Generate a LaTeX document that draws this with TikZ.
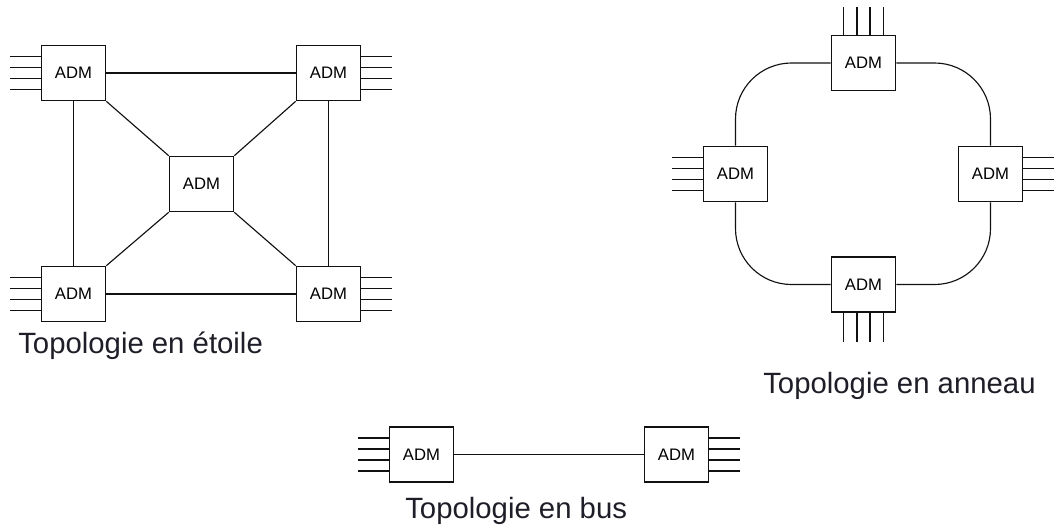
\documentclass[tikz,border=0pt]{standalone}
\usepackage{fontspec}
\setmainfont{Liberation Sans}
\usetikzlibrary{positioning,calc}
\definecolor{ink}{HTML}{111111}
\definecolor{textink}{HTML}{1E1E28}
\tikzset{
  adm/.style={draw=ink,fill=white,line width=1.15pt,minimum width=48pt,
              minimum height=41.25pt,inner sep=0pt,font=\fontsize{12.5}{14}\selectfont},
  link/.style={draw=ink,line width=0.85pt},
  port/.style={draw=ink,line width=1.15pt},
  toplabel/.style={anchor=base west,inner sep=0pt,text=textink,
                   font=\fontsize{22}{26}\selectfont}
}
% four tributary ports on one side of an ADM
\newcommand{\portsW}[1]{\foreach \d in {-16.5,-5.5,5.5,16.5}
  \draw[port] ($(#1.west)+(0,\d)$) -- ++(-31,0);}
\newcommand{\portsE}[1]{\foreach \d in {-16.5,-5.5,5.5,16.5}
  \draw[port] ($(#1.east)+(0,\d)$) -- ++(31,0);}
\newcommand{\portsN}[1]{\foreach \d in {-20,-6.5,6.5,20}
  \draw[port] ($(#1.north)+(\d,0)$) -- ++(0,-28);}
\newcommand{\portsS}[1]{\foreach \d in {-20,-6.5,6.5,20}
  \draw[port] ($(#1.south)+(\d,0)$) -- ++(0,29);}

\begin{document}
\begin{tikzpicture}[x=0.75pt,y=-0.75pt]
    \path[use as bounding box] (0,0) rectangle (1057,528);

    % star
    \node[adm] (startl) at (73.5,73)   {ADM};
    \node[adm] (startr) at (328.5,73)  {ADM};
    \node[adm] (starc)  at (201.5,184) {ADM};
    \node[adm] (starbl) at (73.5,294)  {ADM};
    \node[adm] (starbr) at (328.5,294) {ADM};
    \draw[link] (startl) -- (startr);
    \draw[link] (starbl) -- (starbr);
    \draw[link] (startl) -- (starbl);
    \draw[link] (startr) -- (starbr);
    \draw[link] (startl.south east) -- (starc.north west);
    \draw[link] (startr.south west) -- (starc.north east);
    \draw[link] (starbl.north east) -- (starc.south west);
    \draw[link] (starbr.north west) -- (starc.south east);
    \portsW{startl} \portsE{startr} \portsW{starbl} \portsE{starbr}
    \node[toplabel] (starlbl) at (18,353) {Topologie en étoile};

    % ring
    \node[adm] (ringn) at (863.5,63)   {ADM};
    \node[adm] (ringw) at (735.5,174)  {ADM};
    \node[adm] (ringe) at (990.5,174)  {ADM};
    \node[adm] (rings) at (863.5,284.5) {ADM};
    \draw[link,rounded corners=42pt] (ringn.west) -| (ringw.north);
    \draw[link,rounded corners=42pt] (ringn.east) -| (ringe.north);
    \draw[link,rounded corners=42pt] (rings.west) -| (ringw.south);
    \draw[link,rounded corners=42pt] (rings.east) -| (ringe.south);
    \portsN{ringn} \portsW{ringw} \portsE{ringe} \portsS{rings}
    \node[toplabel] (ringlbl) at (763,393) {Topologie en anneau};

    % bus
    \node[adm] (busw) at (421.5,454.5) {ADM};
    \node[adm] (buse) at (676.5,454.5) {ADM};
    \draw[link] (busw) -- (buse);
    \portsW{busw} \portsE{buse}
    \node[toplabel] (buslbl) at (405,518) {Topologie en bus};
  \end{tikzpicture}
\end{document}
